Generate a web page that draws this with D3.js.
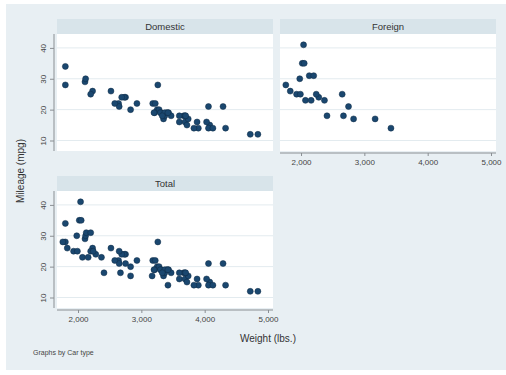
<!DOCTYPE html>
<html>
<head>
<meta charset="utf-8">
<script src="https://cdn.jsdelivr.net/npm/d3@7"></script>
<style>
body{margin:0;background:#fff;}
text{font-family:"Liberation Sans",Arial,sans-serif;}
</style>
</head>
<body>
<svg width="506" height="375"></svg>
<script>
'use strict';

// auto data: weight (lbs.) and mpg
let domWeight = [2930,3350,2640,3250,4080,3670,2230,3280,3880,3400,4330,3900,4290,2110,3690,3180,3220,2750,3430,2120,3600,3600,3740,1800,2650,4840,4720,3830,2580,4060,3720,3370,4130,2830,4060,3310,3300,3690,3370,2730,4030,3260,1800,2200,2520,3330,3700,3470,3210,3200,3420,2690];
let domMpg = [22,17,22,20,15,18,26,20,16,19,14,14,21,29,16,22,22,24,19,30,18,16,17,28,21,12,12,14,22,14,15,18,14,20,21,19,19,18,19,24,16,28,34,25,26,18,18,18,19,19,19,24];
let forWeight = [2830,2070,2650,2370,2020,2280,2750,2130,2240,1760,1980,3420,1830,2050,2410,2200,2670,2160,2040,1930,1990,3170];
let forMpg = [17,23,25,23,35,24,21,31,25,28,30,14,26,35,18,31,18,23,41,25,25,17];
let panelNames = ["Domestic", "Foreign", "Total"];
let xTicks = [2000, 3000, 4000, 5000];
let yTicks = [10, 20, 30, 40];

let svg = d3.select("svg");
let bg = "#e8eff3", strip = "#d8e4ea", dot = "#1a476f", axisCol = "#8a8f93";

svg.append("rect").attr("x",6).attr("y",4).attr("width",500).attr("height",366).attr("fill",bg);

let toPts = (w, m) => w.map((d,i) => ({w:d, m:m[i]}));
let panels = [
  {name:panelNames[0], pts:toPts(domWeight,domMpg), x:57, top:19, yAxis:true, xAxis:false},
  {name:panelNames[1], pts:toPts(forWeight,forMpg), x:280, top:19, yAxis:false, xAxis:true},
  {name:panelNames[2], pts:toPts(domWeight.concat(forWeight), domMpg.concat(forMpg)), x:57, top:176, yAxis:true, xAxis:true}
];
let pw = 216, stripH = 15, ph = 117;

panels.forEach(function(p){
  let g = svg.append("g").attr("transform","translate("+p.x+","+p.top+")");
  g.append("rect").attr("width",pw).attr("height",stripH).attr("fill",strip);
  g.append("text").attr("x",pw/2).attr("y",11).attr("text-anchor","middle")
    .attr("font-size",9.5).attr("fill","#333").text(p.name);

  let x = d3.scaleLinear().domain([1668, 5079]).range([0, pw]);
  let y = d3.scaleLinear().domain([6.6, 44.5]).range([stripH+ph, stripH]);

  g.append("rect").attr("y",stripH).attr("width",pw).attr("height",ph).attr("fill","#fff");
  g.append("g").selectAll("line").data(yTicks).enter().append("line")
    .attr("x1",0).attr("x2",pw).attr("y1",d=>y(d)).attr("y2",d=>y(d))
    .attr("stroke","#e3ebef").attr("stroke-width",1);

  if(p.yAxis){
    let ya = g.append("g").attr("transform","translate(-3,0)")
      .call(d3.axisLeft(y).tickValues(yTicks).tickSize(4).tickPadding(3));
    ya.select(".domain").attr("stroke",axisCol).attr("d","M0,"+stripH+"V"+(stripH+ph));
    ya.selectAll(".tick line").attr("stroke",axisCol);
    ya.selectAll(".tick text").attr("font-size",8).attr("fill","#444")
      .attr("x",0).attr("y",0).attr("dy","0.3em").attr("text-anchor","middle")
      .attr("transform","translate(-10,0) rotate(-90)");
  }
  if(p.xAxis){
    let xa = g.append("g").attr("transform","translate(0,"+(stripH+ph+2)+")")
      .call(d3.axisBottom(x).tickValues(xTicks).tickSize(3).tickPadding(3).tickFormat(d3.format(",")));
    xa.select(".domain").attr("stroke",axisCol).attr("d","M0,0H"+pw);
    xa.selectAll(".tick line").attr("stroke",axisCol);
    xa.selectAll(".tick text").attr("font-size",8).attr("fill","#444");
  }

  g.append("g").selectAll("circle").data(p.pts).enter().append("circle")
    .attr("cx",d=>x(d.w)).attr("cy",d=>y(d.m)).attr("r",3)
    .attr("fill",dot).attr("stroke","#0f2a44").attr("stroke-width",0.5);
});

svg.append("text").attr("transform","translate(24,171) rotate(-90)")
  .attr("text-anchor","middle").attr("font-size",10).attr("fill","#333").text("Mileage (mpg)");
svg.append("text").attr("x",268).attr("y",342).attr("text-anchor","middle")
  .attr("font-size",10).attr("fill","#333").text("Weight (lbs.)");
svg.append("text").attr("x",33).attr("y",355).attr("font-size",7).attr("fill","#444").text("Graphs by Car type");
</script>
</body>
</html>
